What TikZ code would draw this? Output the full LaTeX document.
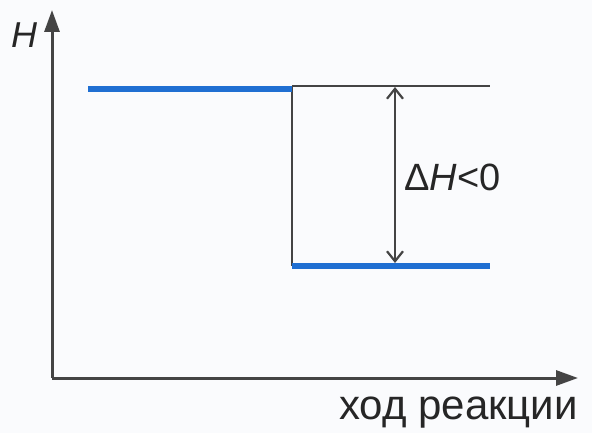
\documentclass[tikz,border=0pt]{standalone}
\usepackage{fontspec}
\setmainfont{Liberation Sans}
\usetikzlibrary{arrows.meta}
\definecolor{lvlblue}{HTML}{1F6FD2}
\definecolor{axgray}{HTML}{444444}
\definecolor{paper}{HTML}{FAFBFD}
\begin{document}
\begin{tikzpicture}[x=1pt,y=-1pt,
  axis/.style={draw=axgray,line width=3pt,-{Triangle[length=22pt,width=15pt]}},
  level/.style={draw=lvlblue,line width=6.5pt},
  thin/.style={draw=axgray,line width=2.2pt},
  dh/.style={draw=axgray,line width=2.2pt,{Straight Barb[length=10pt,width=16pt,line width=2.2pt]}-{Straight Barb[length=10pt,width=16pt,line width=2.2pt]}},
  lab/.style={text=black!85,inner sep=0pt}]
\fill[paper] (0,0) rectangle (592,433);
\useasboundingbox (0,0) rectangle (592,433);
% axes
\coordinate (O) at (52,378);
\coordinate (Ytip) at (52,10);
\coordinate (Xtip) at (578,378);
\draw[axis] (O) -- (Ytip);
\draw[axis] (O) -- (Xtip);
% levels
\coordinate (r1) at (88,89);
\coordinate (r2) at (292,89);
\coordinate (p1) at (292,266);
\coordinate (p2) at (490,266);
\coordinate (t1) at (292,86);
\coordinate (t2) at (490,86);
\draw[thin] (t1) -- (t2);
\draw[thin] (t1) -- (p1);
\draw[level] (r1) -- (r2);
\draw[level] (p1) -- (p2);
% delta arrow
\coordinate (a1) at (395,87);
\coordinate (a2) at (395,263);
\draw[dh] (a1) -- (a2);
% labels
\node[lab,anchor=base west] (H) at (11,48) {\fontsize{36}{38}\selectfont\itshape H};
\node[lab,anchor=base west] (dH) at (404,190) {\fontsize{38}{40}\selectfont Δ\textit{H}<0};
\node[lab,anchor=base east] (xl) at (578,419) {\fontsize{42}{44}\selectfont ход реакции};
\end{tikzpicture}
\end{document}
